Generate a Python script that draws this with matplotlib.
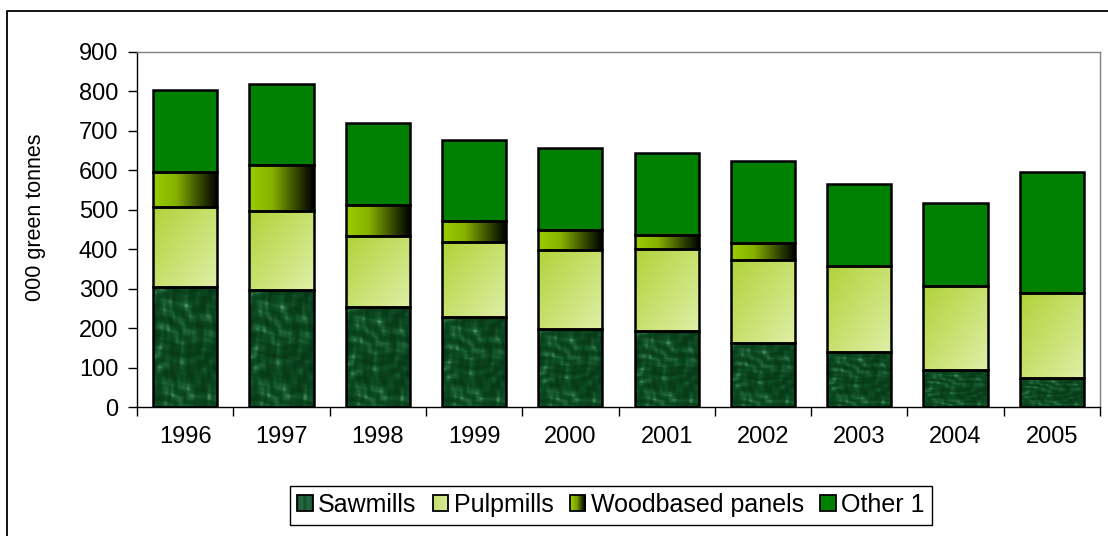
import numpy as np
import matplotlib
matplotlib.use("Agg")
import matplotlib.pyplot as plt
from matplotlib.colors import LinearSegmentedColormap
from matplotlib.patches import Rectangle
from matplotlib.legend_handler import HandlerBase
from matplotlib.lines import Line2D

plt.rcParams['font.family'] = ['Liberation Sans', 'DejaVu Sans']

# ---------------- data ----------------
years = ["1996", "1997", "1998", "1999", "2000", "2001", "2002", "2003", "2004", "2005"]
sawmills = [303, 297, 254, 228, 198, 192, 163, 140, 93, 74]
pulpmills = [203, 199, 179, 190, 201, 209, 210, 217, 215, 214]
woodbased = [91, 117, 79, 53, 50, 35, 43, 0, 0, 0]
other1 = [207, 207, 208, 206, 207, 207, 207, 208, 208, 307]
series_names = ["Sawmills", "Pulpmills", "Woodbased panels", "Other 1"]
y_ticks = [0, 100, 200, 300, 400, 500, 600, 700, 800, 900]

# ---------------- styles ----------------
saw_cmap = LinearSegmentedColormap.from_list(
    "saw", [(0, "#063515"), (0.45, "#0c4a22"), (0.75, "#1f6439"), (1.0, "#5b9c74")])
pulp_cmap = LinearSegmentedColormap.from_list("pulp", ["#b0d23a", "#c8e06e", "#e0eea8"])
wood_cmap = LinearSegmentedColormap.from_list(
    "wood", [(0, "#9acd00"), (0.35, "#86b200"), (0.7, "#3a5000"), (1.0, "#000000")])
other_color = "#008000"

# textures (styling only)
H, W = 140, 70
yy, xx = np.mgrid[0:H, 0:W].astype(float)
saw_tex = (np.sin(xx * 0.16 + 2.5 * np.sin(yy * 0.07)) * np.sin(yy * 0.13 + 2.0 * np.sin(xx * 0.11))
           + 0.6 * np.sin(0.31 * xx + 0.22 * yy + 1.5 * np.sin(0.09 * yy))
           * np.sin(0.27 * yy - 0.35 * xx + 1.2 * np.sin(0.15 * xx))
           + 0.25 * np.sin(0.7 * xx - 0.5 * yy) * np.sin(0.6 * yy + 0.4 * xx))
saw_tex = (saw_tex - saw_tex.min()) / (saw_tex.max() - saw_tex.min())
saw_tex = saw_tex ** 1.3

pulp_tex = (xx / (W - 1) + yy / (H - 1)) / 2.0  # top-left saturated -> bottom-right pale
pulp_tex = np.clip(pulp_tex + 0.03 * np.sin((xx + yy) * 1.6), 0, 1)

wood_tex = np.tile(np.linspace(0, 1, 200), (4, 1))

fig = plt.figure(figsize=(11.08, 5.36), dpi=100)
ax = fig.add_axes([137 / 1108, 1 - 407 / 536, (1100 - 137) / 1108, (407 - 52) / 536])

x = np.arange(len(years))
width = 0.667
saw = np.array(sawmills)
pulp = np.array(pulpmills)
wood = np.array(woodbased)
oth = np.array(other1)

ax.set_xlim(-0.5, len(years) - 0.5)
ax.set_ylim(0, 900)

layers = [
    (saw, np.zeros_like(saw), saw_tex, saw_cmap),
    (pulp, saw, pulp_tex, pulp_cmap),
    (wood, saw + pulp, wood_tex, wood_cmap),
]

for vals, bottom, tex, cmap in layers:
    bars = ax.bar(x, vals, width, bottom=bottom, facecolor=cmap(0.5), edgecolor="none", zorder=2)
    for b in bars:
        if b.get_height() <= 0:
            continue
        im = ax.imshow(tex, cmap=cmap, aspect="auto", interpolation="bilinear",
                       extent=(b.get_x(), b.get_x() + b.get_width(),
                               b.get_y(), b.get_y() + b.get_height()),
                       origin="upper", zorder=2.5)
        im.set_clip_path(b)

ax.bar(x, oth, width, bottom=saw + pulp + wood, facecolor=other_color, edgecolor="none", zorder=2)

# outlines
bottoms = [np.zeros_like(saw), saw, saw + pulp, saw + pulp + wood]
for vals, bottom in zip([saw, pulp, wood, oth], bottoms):
    mask = vals > 0
    ax.bar(x[mask], vals[mask], width, bottom=bottom[mask], facecolor="none",
           edgecolor="black", linewidth=1.8, zorder=3)

ax.set_xlim(-0.5, len(years) - 0.5)
ax.set_ylim(0, 900)
ax.set_yticks(y_ticks)
ax.set_yticklabels([str(v) for v in y_ticks], fontsize=17)
ax.set_xticks(x)
ax.set_xticklabels(years, fontsize=17)
ax.set_xticks(np.arange(-0.5, len(years) + 0.5, 1), minor=True)
ax.tick_params(axis="x", which="major", length=0, pad=14)
ax.tick_params(axis="x", which="minor", length=6.5, width=1, direction="out")
ax.tick_params(axis="y", which="major", length=6.5, width=1, direction="out", pad=7)

for s in ["left", "bottom"]:
    ax.spines[s].set_color("black")
    ax.spines[s].set_linewidth(1.0)
for s in ["top", "right"]:
    ax.spines[s].set_color("#808080")
    ax.spines[s].set_linewidth(1.0)

ax.set_ylabel("000 green tonnes", fontsize=15.5)
ax.yaxis.set_label_coords(-0.0945, 0.535)


# legend
class GradHandler(HandlerBase):
    def __init__(self, cmap, n=14):
        super().__init__()
        self.cmap = cmap
        self.n = n

    def create_artists(self, legend, orig_handle, xdescent, ydescent, width, height, fontsize, trans):
        arts = []
        for i in range(self.n):
            arts.append(Rectangle((-xdescent + i * width / self.n, -ydescent), width / self.n + 0.3, height,
                                  facecolor=self.cmap((i + 0.5) / self.n), edgecolor="none", transform=trans))
        arts.append(Rectangle((-xdescent, -ydescent), width, height, facecolor="none",
                              edgecolor="black", linewidth=1.3, transform=trans))
        return arts


h_saw = Rectangle((0, 0), 1, 1)
h_pulp = Rectangle((0, 0), 1, 1)
h_wood = Rectangle((0, 0), 1, 1)
h_oth = Rectangle((0, 0), 1, 1)
saw_leg = LinearSegmentedColormap.from_list("sl", ["#0e4424", "#2a6a44", "#174f2c", "#2a6a44", "#0e4424"])
pulp_leg = LinearSegmentedColormap.from_list("pl", ["#c4de68", "#d8eaa0"])
oth_leg = LinearSegmentedColormap.from_list("ol", [other_color, other_color])
leg = fig.legend([h_saw, h_pulp, h_wood, h_oth], series_names, loc="center",
                 bbox_to_anchor=(611 / 1108, 1 - 505 / 536), ncol=4, fontsize=18,
                 frameon=True, fancybox=False, edgecolor="black", framealpha=1,
                 handlelength=0.62, handleheight=0.62, handletextpad=0.22,
                 columnspacing=0.65, borderpad=0.3, borderaxespad=0,
                 handler_map={h_saw: GradHandler(saw_leg), h_pulp: GradHandler(pulp_leg),
                              h_wood: GradHandler(wood_cmap), h_oth: GradHandler(oth_leg)})
leg.get_frame().set_linewidth(1.0)

# outer chart border (top and left visible)
fig.add_artist(Line2D([7 / 1108, 7 / 1108, 1.0], [0.0, 1 - 11 / 536, 1 - 11 / 536],
                      transform=fig.transFigure, color="black", linewidth=1.3))

fig.savefig("out.png", dpi=100)
